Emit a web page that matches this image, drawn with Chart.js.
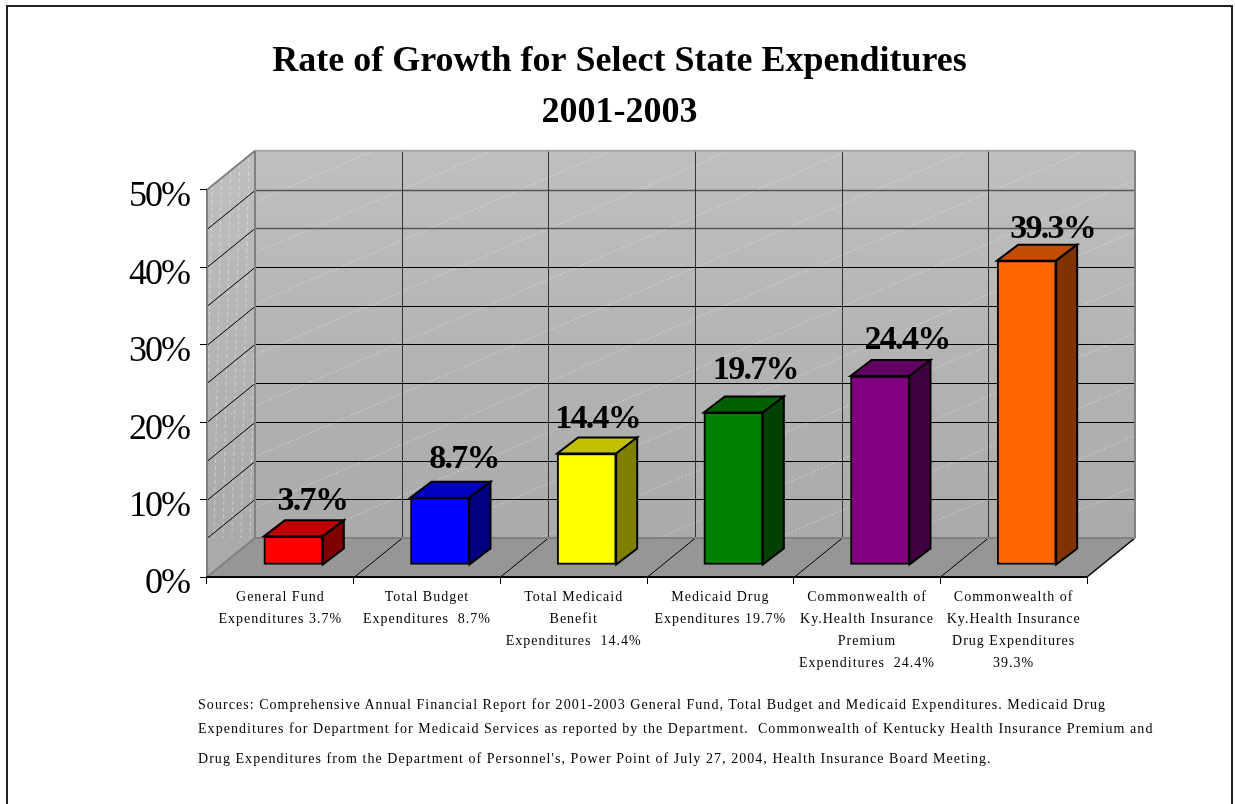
<!DOCTYPE html>
<html>
<head>
<meta charset="utf-8">
<title>Rate of Growth for Select State Expenditures</title>
<script src="https://cdn.jsdelivr.net/npm/chart.js@4"></script>
<style>
    body { margin: 0; background: #fff; }
    #frame { position: absolute; left: 6px; top: 5px; width: 1227px; height: 810px; border: 2px solid #222; box-sizing: border-box; }
    #wrap { position: absolute; left: 0; top: 0; width: 1235px; height: 804px; overflow: hidden; }
    canvas { position: absolute; left: 0; top: 0; }
    .src { position: absolute; left: 198px; white-space: pre; font: 14px "Liberation Serif", serif; letter-spacing: 1.05px; color: #000; }
</style>
</head>
<body>
<div id="wrap">
    <div id="frame"></div>
    <canvas id="growthChart" width="1235" height="804"></canvas>
    <div class="src" style="top:697px">Sources: Comprehensive Annual Financial Report for 2001-2003 General Fund, Total Budget and Medicaid Expenditures. Medicaid Drug</div>
    <div class="src" style="top:721px">Expenditures for Department for Medicaid Services as reported by the Department.  Commonwealth of Kentucky Health Insurance Premium and</div>
    <div class="src" style="top:751px">Drug Expenditures from the Department of Personnel's, Power Point of July 27, 2004, Health Insurance Board Meeting.</div>
</div>
<script>
var categories = [
    ['General Fund', 'Expenditures 3.7%'],
    ['Total Budget', 'Expenditures  8.7%'],
    ['Total Medicaid', 'Benefit', 'Expenditures  14.4%'],
    ['Medicaid Drug', 'Expenditures 19.7%'],
    ['Commonwealth of', 'Ky.Health Insurance', 'Premium', 'Expenditures  24.4%'],
    ['Commonwealth of', 'Ky.Health Insurance', 'Drug Expenditures', '39.3%']
]
var growth = [3.7, 8.7, 14.4, 19.7, 24.4, 39.3]
var tickLabels = ['0%', '10%', '20%', '30%', '40%', '50%']
var titleLines = ['Rate of Growth for Select State Expenditures', '2001-2003']

var frontColors = ['#ff0000', '#0000ff', '#ffff00', '#008000', '#800080', '#ff6600']
var topColors = ['#c00000', '#0000c0', '#c0c000', '#006000', '#600060', '#c04d00']
var sideColors = ['#800000', '#000080', '#808000', '#004000', '#400040', '#803300']

// the value labels were placed by hand in the original, so each has its own nudge
var labelNudge = [[19, -27], [24, -31], [11, -26], [22, -34], [27, -28], [26, -24]]

var SERIF = '"Liberation Serif", serif'
var WALL_DX = 48, WALL_DY = -39     // back wall offset from the front plane
var BAR_DX = 13, BAR_DY = -12       // bars stand a little behind the front edge
var BAR_DEPTH_X = 21, BAR_DEPTH_Y = -16

function poly(ctx, pts, fill, stroke, width) {
    ctx.beginPath()
    ctx.moveTo(pts[0][0], pts[0][1])
    for (var i = 1; i < pts.length; i++) ctx.lineTo(pts[i][0], pts[i][1])
    ctx.closePath()
    if (fill) { ctx.fillStyle = fill; ctx.fill() }
    if (stroke) { ctx.strokeStyle = stroke; ctx.lineWidth = width; ctx.lineJoin = 'miter'; ctx.stroke() }
}

function line(ctx, x1, y1, x2, y2, color, width) {
    ctx.beginPath()
    ctx.moveTo(x1, y1)
    ctx.lineTo(x2, y2)
    ctx.strokeStyle = color
    ctx.lineWidth = width
    ctx.stroke()
}

// the original labels are letter spaced, which the scale options can't do
function spaceLabels(scale, spacing) {
    if (scale._spaced) return
    var drawLabels = scale.drawLabels
    scale.drawLabels = function (area) {
        this.ctx.letterSpacing = spacing
        drawLabels.call(this, area)
        this.ctx.letterSpacing = '0px'
    }
    scale._spaced = true
}

// back wall, side wall and floor, all hung on the chart scales
var wallsPlugin = {
    id: 'walls',
    beforeDraw: function (chart) {
        var ctx = chart.ctx, x = chart.scales.x, y = chart.scales.y
        var left = x.left, right = x.right, top = y.getPixelForValue(50), bottom = y.getPixelForValue(0)
        var dx = WALL_DX, dy = WALL_DY
        var backTop = top + dy, backBottom = bottom + dy, backLeft = left + dx, backRight = right + dx

        spaceLabels(x, '1px')
        spaceLabels(y, '-2px')

        ctx.save()
        var grad = ctx.createLinearGradient(0, backTop, 0, backBottom)
        grad.addColorStop(0, '#bfbfbf')
        grad.addColorStop(1, '#aaaaaa')
        poly(ctx, [[backLeft, backTop], [backRight, backTop], [backRight, backBottom], [backLeft, backBottom]], grad)
        poly(ctx, [[left, top], [backLeft, backTop], [backLeft, backBottom], [left, bottom]], grad)

        // faint texture on the walls
        ctx.save()
        ctx.beginPath()
        ctx.rect(backLeft, backTop, backRight - backLeft, backBottom - backTop)
        ctx.clip()
        ctx.setLineDash([2, 2])
        for (var k = -2; k < 18; k++) {
            var sy = backTop + 51 + 51 * k
            line(ctx, backLeft, sy, backRight, sy - 0.43 * (backRight - backLeft), 'rgba(255,255,255,0.4)', 1)
        }
        ctx.restore()
        ctx.save()
        ctx.beginPath()
        ctx.moveTo(left, top); ctx.lineTo(backLeft, backTop); ctx.lineTo(backLeft, backBottom); ctx.lineTo(left, bottom)
        ctx.closePath()
        ctx.clip()
        ctx.setLineDash([4, 3])
        for (var s = left + 6; s < backLeft + 8; s += 9) {
            line(ctx, s, backTop, s - 8, backBottom, 'rgba(255,255,255,0.4)', 1)
        }
        ctx.restore()

        // floor
        poly(ctx, [[left, bottom], [right, bottom], [backRight, backBottom], [backLeft, backBottom]], '#969696')

        // grid on the walls
        for (var v = 5; v < 50; v += 5) {
            var py = Math.round(y.getPixelForValue(v)) + 0.5
            var c = v >= 40 ? '#555555' : '#000000'
            line(ctx, backLeft, py + dy, backRight, py + dy, c, v >= 40 ? 1.5 : 1)
            line(ctx, left, py, backLeft, py + dy, '#000000', 1)
        }
        for (var i = 1; i < categories.length; i++) {
            var px = Math.round(x.getPixelForValue(i - 0.5)) + 0.5
            line(ctx, px + dx, backTop, px + dx, backBottom, '#333333', 1)
            line(ctx, px, bottom, px + dx, backBottom, '#000000', 1)
        }
        line(ctx, right, bottom, backRight, backBottom, '#000000', 1.5)

        // wall edges
        line(ctx, backLeft, backTop, backRight, backTop, '#a6a6a6', 2)
        line(ctx, backRight, backTop, backRight, backBottom, '#808080', 2)
        line(ctx, backLeft, backBottom, backRight, backBottom, '#808080', 2)
        line(ctx, backLeft, backTop, backLeft, backBottom, '#808080', 2)
        line(ctx, left, top, backLeft, backTop, '#808080', 2)
        line(ctx, left, top, left, bottom, '#808080', 2)
        line(ctx, left, bottom, backLeft, backBottom, '#808080', 2)
        ctx.restore()
    }
}

// shifts the library bars back and adds their top and side faces
var bars3dPlugin = {
    id: 'bars3d',
    beforeDatasetsDraw: function (chart) {
        var ctx = chart.ctx
        ctx.save()
        ctx.translate(BAR_DX, BAR_DY)
        chart.getDatasetMeta(0).data.forEach(function (bar, i) {
            var l = bar.x - bar.width / 2, r = bar.x + bar.width / 2, t = bar.y, b = bar.base
            var ex = BAR_DEPTH_X, ey = BAR_DEPTH_Y
            poly(ctx, [[l, t], [l + ex, t + ey], [r + ex, t + ey], [r, t]], topColors[i], '#000', 2)
            poly(ctx, [[r, t], [r + ex, t + ey], [r + ex, b + ey], [r, b]], sideColors[i], '#000', 2)
        })
    },
    afterDatasetsDraw: function (chart) {
        var ctx = chart.ctx
        ctx.restore()
        ctx.save()
        ctx.font = 'bold 34px ' + SERIF
        ctx.letterSpacing = '-1.7px'
        ctx.fillStyle = '#000'
        ctx.textAlign = 'center'
        ctx.textBaseline = 'alphabetic'
        chart.getDatasetMeta(0).data.forEach(function (bar, i) {
            ctx.fillText(growth[i].toFixed(1) + '%', bar.x + BAR_DX + labelNudge[i][0], bar.y + BAR_DY + labelNudge[i][1] + 1)
        })
        ctx.letterSpacing = '0px'
        ctx.restore()
    }
}

var data = {
    labels: categories,
    datasets: [
        {
            label: 'Rate of growth',
            data: growth,
            backgroundColor: frontColors,
            borderColor: '#000',
            borderWidth: 2,
            borderSkipped: false,
            barThickness: 59,
            clip: false,
        },
    ],
}

var config = {
    type: 'bar',
    data: data,
    plugins: [wallsPlugin, bars3dPlugin],
    options: {
        responsive: false,
        animation: false,
        layout: { autoPadding: false, padding: { left: 4, right: 0, top: 0, bottom: 0 } },
        plugins: {
            legend: { display: false },
            tooltip: { enabled: false },
            title: {
                display: true,
                text: titleLines,
                color: '#000',
                font: { family: SERIF, size: 36, weight: 'bold', lineHeight: 1.4 },
                padding: { top: 37, bottom: 52 },
            },
        },
        scales: {
            x: {
                afterFit: function (scale) { scale.height = 227 },
                grid: { drawOnChartArea: false, drawTicks: true, tickLength: 7, color: '#000', lineWidth: 1 },
                border: { color: '#000', width: 2 },
                ticks: {
                    color: '#000',
                    font: { family: SERIF, size: 14, lineHeight: 1.57 },
                    maxRotation: 0,
                    minRotation: 0,
                    autoSkip: false,
                    padding: 2,
                },
            },
            y: {
                min: 0,
                max: 50,
                afterFit: function (scale) { scale.width = 203 },
                grid: {
                    drawOnChartArea: false,
                    drawTicks: true,
                    tickLength: 7,
                    color: function (c) { return c.tick && c.tick.value % 10 === 0 ? '#000' : 'rgba(0,0,0,0)' },
                },
                border: { display: false },
                ticks: {
                    stepSize: 5,
                    autoSkip: false,
                    color: '#000',
                    padding: 11,
                    labelOffset: 7,
                    font: { family: SERIF, size: 36 },
                    callback: function (value) { return tickLabels[value / 10] || '' },
                },
            },
            // empty right-hand axis keeps the plot clear of the right margin, title stays centred on the page
            spacer: {
                axis: 'y',
                position: 'right',
                min: 0,
                max: 50,
                afterFit: function (scale) { scale.width = 148 },
                grid: { display: false },
                border: { display: false },
                ticks: { display: false },
            },
        },
    },
}

var canvas = document.getElementById('growthChart')
var chart = new Chart(canvas, config)
</script>
</body>
</html>
